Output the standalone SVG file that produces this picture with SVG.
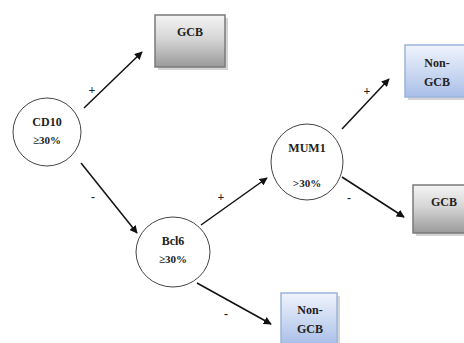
<svg xmlns="http://www.w3.org/2000/svg" width="464" height="343" viewBox="0 0 464 343">
  <defs>
    <linearGradient id="grayFill" x1="0" y1="0" x2="0" y2="1">
      <stop offset="0" stop-color="#f4f4f4"/>
      <stop offset="0.45" stop-color="#d6d6d6"/>
      <stop offset="1" stop-color="#9a9a9a"/>
    </linearGradient>
    <linearGradient id="blueFill" x1="0" y1="0" x2="0" y2="1">
      <stop offset="0" stop-color="#f0f4fc"/>
      <stop offset="1" stop-color="#a9bfe8"/>
    </linearGradient>
    <marker id="arrow" viewBox="0 0 10 10" refX="9" refY="5" markerWidth="8" markerHeight="8" markerUnits="userSpaceOnUse" orient="auto">
      <path d="M0,0 L10,5 L0,10 z" fill="#111"/>
    </marker>
  </defs>
  <style>
    text { font-family: "Liberation Serif", "Times New Roman", serif; font-weight: bold; font-size: 12px; fill: #222; text-anchor: middle; }
    .pct { font-size: 11px; }
    .sign { font-size: 12px; }
    .circle { fill: #fff; stroke: #444; stroke-width: 1; }
    .gray { fill: url(#grayFill); stroke: #7a7a7a; stroke-width: 1.5; }
    .blue { fill: url(#blueFill); stroke: #9db3dc; stroke-width: 1.5; }
    .shadow { fill: #b8b8b8; opacity: 0.6; }
    .edge { stroke: #111; stroke-width: 1.5; fill: none; marker-end: url(#arrow); }
  </style>

  <rect width="464" height="343" fill="#fff"/>

  <g id="connectors">
    <line class="edge" x1="84" y1="108" x2="142" y2="52"/>
    <line class="edge" x1="81" y1="163" x2="137" y2="233"/>
    <line class="edge" x1="201" y1="225" x2="267" y2="178"/>
    <line class="edge" x1="197" y1="283" x2="271" y2="324"/>
    <line class="edge" x1="342" y1="129" x2="389" y2="79"/>
    <line class="edge" x1="342" y1="177" x2="404" y2="217"/>
    <text class="sign" x="92" y="94">+</text>
    <text class="sign" x="93" y="201">-</text>
    <text class="sign" x="221" y="201">+</text>
    <text class="sign" x="226" y="318">-</text>
    <text class="sign" x="367" y="95">+</text>
    <text class="sign" x="349" y="202">-</text>
  </g>

  <g id="cd10">
    <circle class="circle" cx="47" cy="132" r="34"/>
    <text x="47" y="126">CD10</text>
    <text class="pct" x="47" y="144">≥30%</text>
  </g>

  <g id="bcl6">
    <ellipse class="circle" cx="173" cy="252" rx="37" ry="35"/>
    <text x="173" y="245">Bcl6</text>
    <text class="pct" x="173" y="263">≥30%</text>
  </g>

  <g id="mum1">
    <ellipse class="circle" cx="307" cy="162" rx="36" ry="38"/>
    <text x="307" y="152">MUM1</text>
    <text class="pct" x="307" y="187">&gt;30%</text>
  </g>

  <g id="gcb-top">
    <rect class="shadow" x="158" y="18" width="70" height="52"/>
    <rect class="gray" x="155" y="15" width="70" height="52"/>
    <text x="190" y="36">GCB</text>
  </g>

  <g id="nongcb-top">
    <rect class="shadow" x="408" y="48" width="60" height="52"/>
    <rect class="blue" x="405" y="45" width="62" height="52"/>
    <text x="437" y="67">Non-</text>
    <text x="437" y="86">GCB</text>
  </g>

  <g id="gcb-right">
    <rect class="shadow" x="416" y="188" width="52" height="48"/>
    <rect class="gray" x="413" y="185" width="54" height="48"/>
    <text x="444" y="206">GCB</text>
  </g>

  <g id="nongcb-bottom">
    <rect class="shadow" x="284" y="296" width="56" height="50"/>
    <rect class="blue" x="281" y="293" width="56" height="52"/>
    <text x="310" y="314">Non-</text>
    <text x="310" y="333">GCB</text>
  </g>
</svg>
